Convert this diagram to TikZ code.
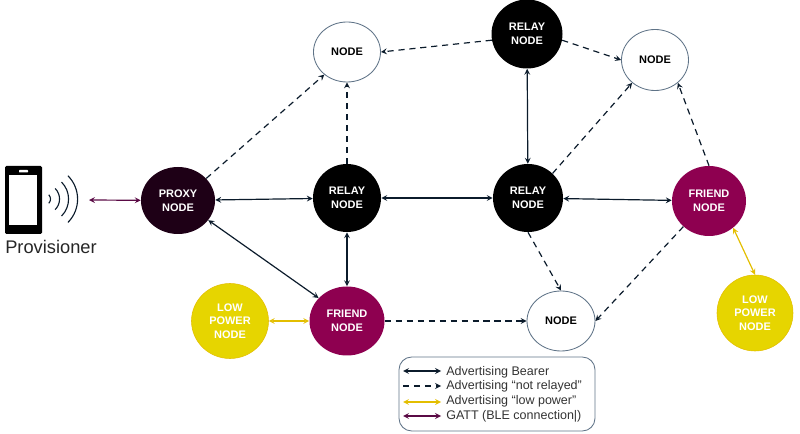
\documentclass[tikz,border=0pt]{standalone}
\usepackage{fontspec}
\setmainfont{Liberation Sans}
\definecolor{wire}{HTML}{0B1B2B}
\definecolor{outline}{HTML}{5F7387}
\definecolor{friendfill}{HTML}{8E0050}
\definecolor{proxyfill}{HTML}{1E0016}
\definecolor{lowfill}{HTML}{E6D500}
\definecolor{lowwire}{HTML}{E3BE00}
\definecolor{gattwire}{HTML}{5A0A45}
\tikzset{
  mesh/.style={ellipse, inner sep=0pt, align=center, font=\bfseries\fontsize{7.8}{9.6}\selectfont},
  plain/.style={mesh, draw=outline, line width=0.6pt, fill=white, text=black},
  relay/.style={mesh, fill=black, text=white},
  proxy/.style={mesh, fill=proxyfill, text=white},
  friend/.style={mesh, fill=friendfill, text=white},
  lowpower/.style={mesh, fill=lowfill, draw=lowwire, text=white},
  bearer/.style={draw=wire, line width=0.85pt, <->, >=stealth},
  notrelayed/.style={draw=wire, line width=0.85pt, ->, >=stealth, dash pattern=on 4.4pt off 3.4pt},
  lowlink/.style={draw=lowwire, line width=0.85pt, <->, >=stealth},
  gatt/.style={draw=gattwire, line width=0.85pt, <->, >=stealth},
  legendtext/.style={anchor=west, inner sep=0pt, font=\fontsize{8.9}{10}\selectfont, text=black!80}
}
\usetikzlibrary{shapes.geometric}
\begin{document}
\begin{tikzpicture}[x=0.25mm, y=-0.25mm]
  \useasboundingbox (0,0) rectangle (800,434);
  % phone
  \fill[black, rounded corners=1pt] (5,166) rectangle (42,234);
  \fill[white] (9,175) rectangle (37,225);
  \fill[white, rounded corners=0.5pt] (19,170) rectangle (28,172.5);
  \coordinate (wave) at (44.5,199);
  \foreach \r in {6,15,24,33}
    \draw[wire, line width=0.8pt] (wave) ++(\r*0.71,\r*0.71) arc[start angle=-45, end angle=45, radius=\r*0.25mm];
  \node[inner sep=0pt, font=\fontsize{13}{14}\selectfont, text=black!85] (provisioner) at (51,247) {Provisioner};
  \coordinate (phone) at (89,200);
  % mesh nodes
  \node[proxy, minimum width=74*0.25mm, minimum height=67*0.25mm] (proxy) at (178,200.5) {PROXY\\NODE};
  \node[relay, minimum width=68*0.25mm, minimum height=68*0.25mm] (relaya) at (347,198) {RELAY\\NODE};
  \node[relay, minimum width=70*0.25mm, minimum height=68*0.25mm] (relayb) at (528,198) {RELAY\\NODE};
  \node[relay, minimum width=71*0.25mm, minimum height=69*0.25mm] (relayc) at (527,34) {RELAY\\NODE};
  \node[plain, minimum width=67*0.25mm, minimum height=60*0.25mm] (nodea) at (347,52) {NODE};
  \node[plain, minimum width=67*0.25mm, minimum height=61*0.25mm] (nodeb) at (655,60) {NODE};
  \node[plain, minimum width=68*0.25mm, minimum height=60*0.25mm] (nodec) at (561,321) {NODE};
  \node[friend, minimum width=75*0.25mm, minimum height=69*0.25mm] (frienda) at (347,321) {FRIEND\\NODE};
  \node[friend, minimum width=74*0.25mm, minimum height=70*0.25mm] (friendb) at (709,201) {FRIEND\\NODE};
  \node[lowpower, minimum width=77*0.25mm, minimum height=75*0.25mm] (lowa) at (230,321) {LOW\\POWER\\NODE};
  \node[lowpower, minimum width=76*0.25mm, minimum height=76*0.25mm] (lowb) at (755,313) {LOW\\POWER\\NODE};
  % links
  \begin{scope}[every edge/.style={bearer}]
    \path (proxy) edge (relaya);
    \path (relaya) edge (relayb);
    \path (relayb) edge (friendb);
    \path (relayb) edge (relayc);
    \path (relaya) edge (frienda);
    \path (proxy.-33) edge (frienda.141);
  \end{scope}
  \begin{scope}[every edge/.style={notrelayed}]
    \path (proxy.38) edge (nodea.-135);
    \path (relaya) edge (nodea);
    \path (relayc.190) edge (nodea.east);
    \path (relayc.-10) edge (nodeb.west);
    \path (relayb.45) edge (nodeb.-135);
    \path (friendb.north) edge (nodeb.-45);
    \path (relayb.south) edge (nodec.north);
    \path (friendb.-135) edge (nodec.east);
    \path (frienda) edge (nodec);
  \end{scope}
  \begin{scope}[every edge/.style={lowlink}]
    \path (lowa) edge (frienda);
    \path (friendb.-48) edge (lowb.north);
  \end{scope}
  \path (phone) edge[gatt] (proxy);
  % legend
  \node[draw=outline, line width=0.6pt, rounded corners=9pt, minimum width=196*0.25mm, minimum height=74*0.25mm] (legend) at (497,394) {};
  \node[legendtext] (beartext) at (446,372) {Advertising Bearer};
  \node[legendtext] (relaytext) at (446,386.5) {Advertising “not relayed”};
  \node[legendtext] (lowtext) at (446,401.5) {Advertising “low power”};
  \node[legendtext] (gatttext) at (446,416.5) {GATT (BLE connection|)};
  \coordinate (beara) at (403,371);
  \coordinate (bearb) at (441,371);
  \coordinate (relaypa) at (403,386);
  \coordinate (relaypb) at (441,386);
  \coordinate (lowpa) at (403,402);
  \coordinate (lowpb) at (441,402);
  \coordinate (gatta) at (403,416);
  \coordinate (gattb) at (441,416);
  \path (beara) edge[bearer] (bearb);
  \path (relaypa) edge[notrelayed] (relaypb);
  \path (lowpa) edge[lowlink] (lowpb);
  \path (gatta) edge[gatt] (gattb);
\end{tikzpicture}
\end{document}
